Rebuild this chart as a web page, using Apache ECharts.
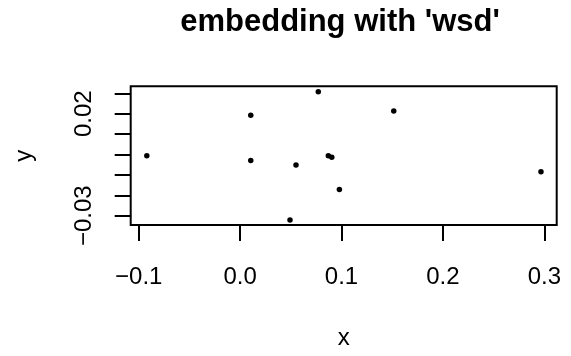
<!DOCTYPE html>
<html>
<head>
<meta charset="utf-8">
<script src="https://cdn.jsdelivr.net/npm/echarts@6/dist/echarts.min.js"></script>
<style>
  html, body { margin: 0; padding: 0; background: #fff; }
  #chart { width: 571px; height: 356px; }
</style>
</head>
<body>
<div id="chart"></div>
<script>
// embedding coordinates
var xValues = [-0.092, 0.0105, 0.0105, 0.0771, 0.0551, 0.0492, 0.0870, 0.0904, 0.0979, 0.1515, 0.2967];
var yValues = [-0.0006, 0.0192, -0.0029, 0.0308, -0.0051, -0.0321, -0.0006, -0.0014, -0.0171, 0.0213, -0.0084];

var xTicks = [-0.1, 0.0, 0.1, 0.2, 0.3];
var yTicks = [-0.03, -0.02, -0.01, 0.0, 0.01, 0.02, 0.03];
var yTickLabels = [-0.03, 0.02];   // R skips the overlapping ones

var points = [];
for (var i = 0; i < xValues.length; i++) {
    points.push([xValues[i], yValues[i]]);
}

var myChart = echarts.init(document.getElementById('chart'));

var font = 'Liberation Sans, Arial, Helvetica, sans-serif';

var option = {
    animation: false,
    backgroundColor: '#fff',
    title: {
        text: "embedding with 'wsd'",
        left: 340,
        top: 7,
        padding: 0,
        textAlign: 'center',
        textStyle: {
            fontFamily: font,
            fontSize: 31,
            fontWeight: 'bold',
            color: '#000'
        }
    },
    grid: {
        left: 130.7,
        right: 14.3,
        top: 86.3,
        bottom: 131,
        show: true,
        borderColor: '#000',
        borderWidth: 2,
        backgroundColor: 'transparent'
    },
    xAxis: {
        type: 'value',
        min: -0.1079,
        max: 0.3122,
        name: 'x',
        nameLocation: 'middle',
        nameGap: 101,
        nameTextStyle: { fontFamily: font, fontSize: 24, color: '#000' },
        axisLine: { show: false, onZero: false },
        axisTick: {
            show: true,
            length: 16,
            customValues: xTicks,
            lineStyle: { color: '#000', width: 2 }
        },
        axisLabel: {
            customValues: xTicks,
            margin: 40,
            fontFamily: font,
            fontSize: 24,
            color: '#000',
            formatter: function (v) {
                var s = v.toFixed(1);
                return s.replace('-', '\u2212');
            }
        },
        splitLine: { show: false }
    },
    yAxis: {
        type: 'value',
        min: -0.03456,
        max: 0.03343,
        name: 'y',
        nameLocation: 'middle',
        nameGap: 94,
        nameTextStyle: { fontFamily: font, fontSize: 24, color: '#000' },
        axisLine: { show: false, onZero: false },
        axisTick: {
            show: true,
            length: 16,
            customValues: yTicks,
            lineStyle: { color: '#000', width: 2 }
        },
        axisLabel: {
            customValues: yTickLabels,
            rotate: 90,
            margin: 34,
            fontFamily: font,
            fontSize: 24,
            color: '#000',
            formatter: function (v) {
                var s = v.toFixed(2);
                return s.replace('-', '\u2212');
            }
        },
        splitLine: { show: false }
    },
    series: [
        {
            type: 'scatter',
            data: points,
            symbol: 'circle',
            symbolSize: 5.5,
            itemStyle: { color: '#000', opacity: 1 }
        }
    ]
};

myChart.setOption(option);
</script>
</body>
</html>
